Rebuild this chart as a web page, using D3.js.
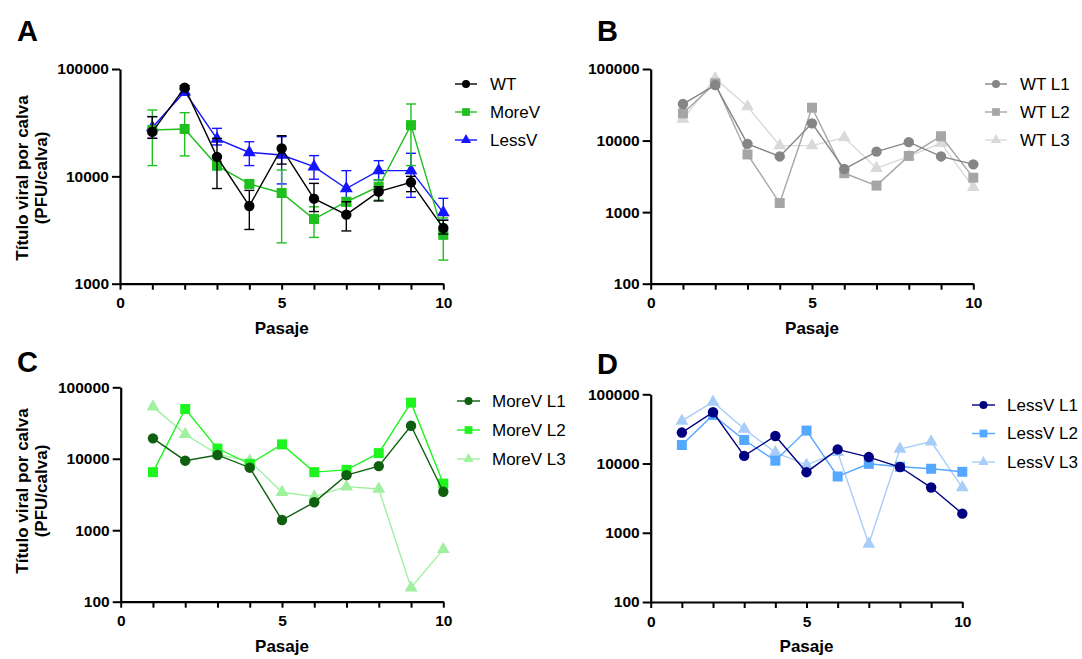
<!DOCTYPE html>
<html><head><meta charset="utf-8">
<script src="https://cdn.jsdelivr.net/npm/d3@7"></script>
<style>
body{margin:0;background:#fff}
svg{display:block}
text{font-family:"Liberation Sans",Arial,Helvetica,sans-serif;fill:#000}
</style>
</head><body>
<svg id="chart" width="1082" height="659"></svg>
<script>
// ---------------- data ----------------
const passages = [1,2,3,4,5,6,7,8,9,10];
const xTickValues = [0,1,2,3,4,5,6,7,8,9,10];
const xTickLabels = [0,5,10];
const yTicksA = [1000,10000,100000];
const yTicksBCD = [100,1000,10000,100000];
const xAxisTitle = "Pasaje";
const yAxisTitle = ["Título viral por calva","(PFU/calva)"];

// Panel A: means with error bar limits
const wtMean   = [26000, 67000, 15200, 5300, 18200, 6200, 4400, 7200, 8800, 3300];
const wtUpper  = [36000, 70000, 22600, 7400, 23900, 8600, 5800, 8000, 10000, 3900];
const wtLower  = [22600, 64000, 7700, 3200, 13000, 4700, 3100, 5900, 7200, 2900];
const moreMean  = [27000, 27600, 12600, 8500, 7000, 4000, 5800, 8000, 30000, 2850];
const moreUpper = [41500, 39200, 13500, 9000, 11450, 5200, 6300, 9300, 47200, 4100];
const moreLower = [12600, 15500, 11500, 8000, 2400, 2700, 5300, 6000, 12600, 1660];
const lessMean  = [28500, 61500, 22300, 16700, 15800, 12300, 7700, 11300, 11300, 4600];
const lessUpper = [36000, 66000, 28000, 21000, 23400, 15600, 11300, 14000, 16400, 6240];
const lessLower = [22600, 57000, 19600, 12600, 8500, 9400, 5400, 9250, 6370, 3900];

// Panel B: WT lines
const wtL1 = [32400, 59800, 9000, 6000, 17400, 4000, 7000, 9500, 6000, 4650];
const wtL2 = [24000, 63000, 6400, 1340, 28800, 3500, 2350, 6100, 11500, 3030];
const wtL3 = [20000, 74000, 29800, 8500, 8500, 11000, 4100, 6000, 9200, 2220];

// Panel C: MoreV lines
const moreL1 = [19300, 9400, 11300, 7500, 1390, 2460, 5900, 7900, 29000, 3460];
const moreL2 = [6500, 49700, 13900, 8500, 15900, 6500, 7000, 12000, 61000, 4500];
const moreL3 = [53600, 22000, 11500, 9300, 3400, 2950, 4070, 3780, 157, 540];

// Panel D: LessV lines
const lessL1 = [28000, 55000, 12900, 25000, 7500, 16000, 12400, 8900, 4500, 1890];
const lessL2 = [18500, 50300, 21900, 11000, 29900, 6500, 9900, 9000, 8400, 7600];
const lessL3 = [41200, 77500, 31600, 14500, 9500, 14600, 690, 16200, 20700, 4500];

// ---------------- drawing ----------------
const svg = d3.select("#chart");

const panels = [
  {letter:"A", letterX:17, letterY:41, x0:120, x1:443.3, yTop:69, yBot:283.7, domain:[1000,100000], yTicks:yTicksA,
   yTitleY:178, legend:{lx0:455, lx1:477, tx:490, y0:84, dy:28},
   series:[
    {name:"WT", values:wtMean, upper:wtUpper, lower:wtLower, color:"#000000", shape:"circle"},
    {name:"MoreV", values:moreMean, upper:moreUpper, lower:moreLower, color:"#1fbf1f", shape:"square"},
    {name:"LessV", values:lessMean, upper:lessUpper, lower:lessLower, color:"#1414ff", shape:"triangle"}
   ]},
  {letter:"B", letterX:597, letterY:41, x0:650.7, x1:973.3, yTop:69, yBot:283.7, domain:[100,100000], yTicks:yTicksBCD,
   yTitleY:null, legend:{lx0:985, lx1:1007, tx:1020, y0:84, dy:28},
   series:[
    {name:"WT L1", values:wtL1, color:"#858585", shape:"circle"},
    {name:"WT L2", values:wtL2, color:"#a6a6a6", shape:"square"},
    {name:"WT L3", values:wtL3, color:"#d9d9d9", shape:"triangle"}
   ]},
  {letter:"C", letterX:17, letterY:372, x0:120.7, x1:443.3, yTop:387.3, yBot:601.7, domain:[100,100000], yTicks:yTicksBCD,
   yTitleY:491, legend:{lx0:457, lx1:480, tx:492, y0:401, dy:29},
   series:[
    {name:"MoreV L1", values:moreL1, color:"#0e5f0e", shape:"circle"},
    {name:"MoreV L2", values:moreL2, color:"#1ef51e", shape:"square"},
    {name:"MoreV L3", values:moreL3, color:"#9ff09f", shape:"triangle"}
   ]},
  {letter:"D", letterX:597, letterY:374, x0:650.7, x1:962.3, yTop:394.3, yBot:602, domain:[100,100000], yTicks:yTicksBCD,
   yTitleY:null, legend:{lx0:972, lx1:995, tx:1007, y0:405, dy:28.5},
   series:[
    {name:"LessV L1", values:lessL1, color:"#000080", shape:"circle"},
    {name:"LessV L2", values:lessL2, color:"#55a8ff", shape:"square"},
    {name:"LessV L3", values:lessL3, color:"#a8cdf8", shape:"triangle"}
   ]}
];

const symType = {circle:d3.symbolCircle, square:d3.symbolSquare, triangle:d3.symbolTriangle};
const symSize = {circle:85, square:100, triangle:72};
const legSize = {circle:50, square:60, triangle:45};

panels.forEach(p => {
  const g = svg.append("g");
  const x = d3.scaleLinear().domain([0,10]).range([p.x0, p.x1]);
  const y = d3.scaleLog().domain(p.domain).range([p.yBot, p.yTop]);

  // panel letter
  g.append("text").attr("x", p.letterX).attr("y", p.letterY)
    .attr("font-size", 29).attr("font-weight", "bold").text(p.letter);

  // axes
  const xAxis = d3.axisBottom(x).tickValues(xTickValues).tickSize(6).tickSizeOuter(0)
    .tickFormat(d => xTickLabels.includes(d) ? d : "");
  const gx = g.append("g").attr("transform", `translate(0,${p.yBot})`).call(xAxis);
  const yAxis = d3.axisLeft(y).tickValues(p.yTicks).tickSize(8).tickSizeOuter(0)
    .tickFormat(d3.format("d")).tickPadding(3);
  const gy = g.append("g").attr("transform", `translate(${p.x0},0)`).call(yAxis);
  [gx, gy].forEach(a => {
    a.select(".domain").attr("stroke", "#000").attr("stroke-width", 2.2);
    a.selectAll(".tick line").attr("stroke", "#000").attr("stroke-width", 2);
    a.selectAll(".tick text").attr("font-size", 15.5).attr("font-weight", "bold")
      .attr("font-family", '"Liberation Sans",Arial,sans-serif').attr("fill", "#000");
  });
  gx.selectAll(".tick text").attr("dy", "1.0em");

  // axis titles
  g.append("text").attr("x", (p.x0 + p.x1) / 2).attr("y", p.yBot + 50)
    .attr("text-anchor", "middle").attr("font-size", 17).attr("font-weight", "bold").text(xAxisTitle);
  if (p.yTitleY !== null) {
    yAxisTitle.forEach((t, i) => {
      g.append("text")
        .attr("transform", `translate(${22 + i * 19},${p.yTitleY}) rotate(-90)`)
        .attr("text-anchor", "middle").attr("dominant-baseline", "central")
        .attr("font-size", 17).attr("font-weight", "bold").text(t);
    });
  }

  const line = d3.line().x((d, i) => x(passages[i])).y(d => y(d));

  // draw series in reverse order so the first is on top
  p.series.slice().reverse().forEach(s => {
    const sg = g.append("g");
    if (s.upper) {
      passages.forEach((pp, i) => {
        const cx = x(pp);
        sg.append("line").attr("x1", cx).attr("x2", cx)
          .attr("y1", y(s.upper[i])).attr("y2", y(s.lower[i]))
          .attr("stroke", s.color).attr("stroke-width", 1.4);
        [s.upper[i], s.lower[i]].forEach(v => {
          sg.append("line").attr("x1", cx - 5).attr("x2", cx + 5)
            .attr("y1", y(v)).attr("y2", y(v))
            .attr("stroke", s.color).attr("stroke-width", 1.4);
        });
      });
    }
    sg.append("path").datum(s.values).attr("d", line)
      .attr("fill", "none").attr("stroke", s.color).attr("stroke-width", 1.4);
    sg.selectAll("path.m").data(s.values).enter().append("path").attr("class", "m")
      .attr("d", d3.symbol().type(symType[s.shape]).size(symSize[s.shape]))
      .attr("transform", (d, i) => `translate(${x(passages[i])},${y(d)})`)
      .attr("fill", s.color);
  });

  // legend
  p.series.forEach((s, i) => {
    const ly = p.legend.y0 + i * p.legend.dy;
    g.append("line").attr("x1", p.legend.lx0).attr("x2", p.legend.lx1)
      .attr("y1", ly).attr("y2", ly).attr("stroke", s.color).attr("stroke-width", 1.4);
    g.append("path").attr("d", d3.symbol().type(symType[s.shape]).size(legSize[s.shape]))
      .attr("transform", `translate(${(p.legend.lx0 + p.legend.lx1) / 2},${ly})`).attr("fill", s.color);
    g.append("text").attr("x", p.legend.tx).attr("y", ly).attr("dy", "0.35em")
      .attr("font-size", 17).text(s.name);
  });
});
</script>
</body></html>
